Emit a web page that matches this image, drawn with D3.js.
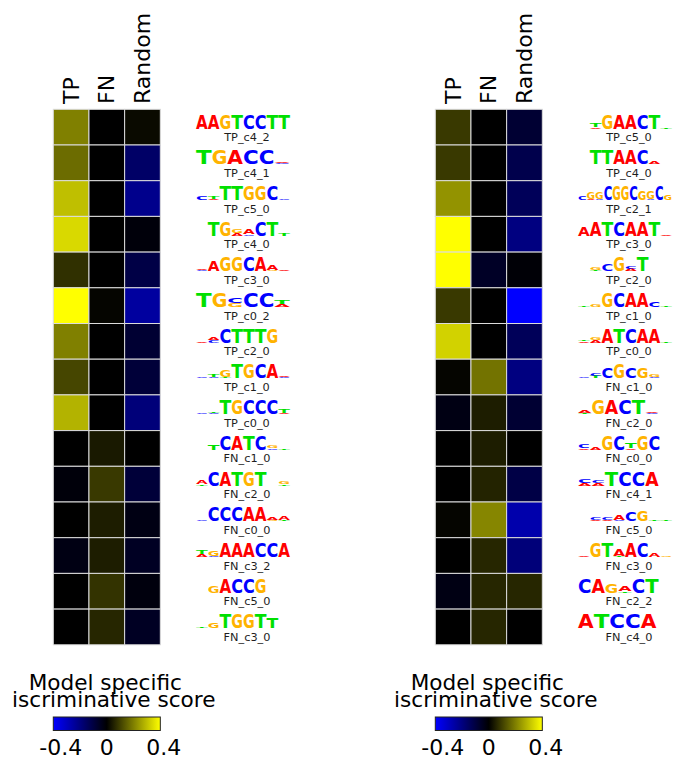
<!DOCTYPE html>
<html>
<head>
  <meta charset="utf-8">
  <title>Model specific discriminative score</title>
  <script src="https://cdn.jsdelivr.net/npm/d3@7"></script>
  <style>
    body { margin: 0; background: #fff; }
    text { font-family: "DejaVu Sans", sans-serif; }
  </style>
</head>
<body>
<svg id="chart" width="676" height="761"></svg>
<script>
// columns of both heatmaps
var colNames = ["TP", "FN", "Random"];

// left panel
var leftNames = ["TP_c4_2", "TP_c4_1", "TP_c5_0", "TP_c4_0", "TP_c3_0", "TP_c0_2", "TP_c2_0", "TP_c1_0",
                 "TP_c0_0", "FN_c1_0", "FN_c2_0", "FN_c0_0", "FN_c3_2", "FN_c5_0", "FN_c3_0"];
var leftTP     = [0.20, 0.17, 0.30, 0.34, 0.075, 0.40, 0.20, 0.11, 0.28, 0.00, -0.015, 0.00, -0.03, 0.00, 0.00];
var leftFN     = [0.00, 0.00, 0.00, 0.00, 0.00, 0.008, 0.00, 0.00, 0.00, 0.04, 0.09, 0.045, 0.045, 0.08, 0.06];
var leftRandom = [0.015, -0.16, -0.22, -0.015, -0.11, -0.25, -0.08, -0.09, -0.19, 0.00, -0.09, -0.03, -0.055, -0.02, -0.055];
// logo positions: letters stacked bottom to top with height in tenths, "-" = empty
var leftLogos = [
  "A10 A10 G10 T10 C10 C10 T10 T10",
  "T10 G10 A10 C10 C10 C1A1",
  "C3 A1T2 T10 T10 G10 G10 C10 C1",
  "- T10 G10 A2G3 C1A4 C10 T10 T2",
  "C1A1 A8 G10 G10 C10 A10 G1A4 A1",
  "T10 G10 G3C4 C10 C10 A2T3",
  "A1 C2A2 C10 T10 T10 T10 G10 -",
  "C1 C1T2 T1G5 T10 G10 C10 A10 C1A1",
  "C1 C1T1 T10 G10 C10 C10 C10 A1T3",
  "- T4 C10 A10 T10 C10 C1G2 T1",
  "T1A3 C10 A10 T10 G10 T10 - T1G2",
  "C1 C10 C10 C10 A10 A10 G1A2 T1A3",
  "A2T3 C1G4 A10 A10 A10 C10 C10 A10",
  "- G5 A10 C10 C10 G10 - -",
  "T1 G4 T10 G10 G10 T10 T8 -"
];

// right panel
var rightNames = ["TP_c5_0", "TP_c4_0", "TP_c2_1", "TP_c3_0", "TP_c2_0", "TP_c1_0", "TP_c0_0", "FN_c1_0",
                  "FN_c2_0", "FN_c0_0", "FN_c4_1", "FN_c5_0", "FN_c3_0", "FN_c2_2", "FN_c4_0"];
var rightTP     = [0.09, 0.09, 0.23, 0.40, 0.40, 0.09, 0.33, 0.008, -0.03, 0.00, 0.00, 0.008, 0.00, -0.03, 0.00];
var rightFN     = [0.00, 0.00, 0.00, 0.00, -0.06, 0.00, 0.00, 0.18, 0.045, 0.045, 0.055, 0.21, 0.06, 0.06, 0.06];
var rightRandom = [-0.08, -0.12, -0.14, -0.20, -0.01, -0.40, -0.14, -0.20, -0.08, 0.00, -0.11, -0.27, -0.19, 0.06, 0.00];
var rightLogos = [
  "- A1T3 G10 A10 A10 C10 T10 T1",
  "- T10 T10 A10 A10 C10 A2 -",
  "C3 A1G5 C1G5 C10 G10 G10 C10 G7 C1G6 C10 G4",
  "A7 A10 T10 C10 A10 A10 T10 A1",
  "- T1G2 C5 G10 A2C2 T10 - -",
  "T1 G2 G10 C10 A10 A10 C4 T1",
  "A1T1 A2G2 A10 T10 C10 A10 A10 T1",
  "C1 T2C2 C8 G10 C8 G8 C1G2 -",
  "T1A2 G10 A10 C10 T10 C1A1 -",
  "A1C3 A2 G10 C10 A1T4 G10 C10 -",
  "A2C3 A2C2 T10 C10 C10 A10 -",
  "- A1C2 A1C2 C1A4 C7 G8 T1 T1",
  "A1 G10 T10 T1A5 A10 C10 A3 G1",
  "C10 A10 G7 T1A4 C10 T10 -",
  "A10 T10 C10 C10 A10 -"
];

// colour legend
var legendTicks = [-0.4, 0, 0.4];
var legendTitle = ["Model specific", "iscriminative score"];

var letterColor = {A: "#ff0000", C: "#0000ff", G: "#ffb300", T: "#00e000"};

var svg = d3.select("#chart");

var color = d3.scaleLinear()
    .domain([-0.4, 0, 0.4])
    .range(["#0000ff", "#000000", "#ffff00"])
    .clamp(true);

var cellW = 35.67, gridTop = 109.3, rowH = 35.7;

function drawPanel(x0, logoX0, names, tp, fn, rnd, logos) {
  var g = svg.append("g");
  var x = d3.scaleBand().domain(colNames).range([x0, x0 + cellW * 3]);
  var y = d3.scaleBand().domain(names).range([gridTop, gridTop + rowH * names.length]);
  var cols = [tp, fn, rnd];

  // headers
  g.selectAll("text.col").data(colNames).enter().append("text")
      .attr("class", "col")
      .attr("transform", function(d) { return "translate(" + (x(d) + x.bandwidth() / 2 + 7.5) + ",104) rotate(-90)"; })
      .attr("font-size", 22)
      .attr("fill", "#000")
      .text(function(d) { return d; });

  // cells
  colNames.forEach(function(c, ci) {
    g.selectAll(null).data(cols[ci]).enter().append("rect")
        .attr("x", x(c))
        .attr("y", function(d, i) { return y(names[i]); })
        .attr("width", x.bandwidth())
        .attr("height", y.bandwidth())
        .attr("fill", function(d) { return color(d); })
        .attr("stroke", "#dcdcdc")
        .attr("stroke-width", 1);
  });

  // logos
  var logoW = 94, unit = 1.35, fs = 20, cap = 0.729 * fs;
  logos.forEach(function(str, i) {
    var rowTop = y(names[i]);
    var base = rowTop + 19.2;
    var pos = str.split(" ");
    var pw = logoW / pos.length;
    pos.forEach(function(p, j) {
      if (p === "-") return;
      var re = /([ACGT])(\d+)/g, m, b = 0;
      while ((m = re.exec(p)) !== null) {
        var h = +m[2] * unit;
        g.append("text")
            .attr("transform", "translate(" + (logoX0 + j * pw) + "," + (base - b) + ") scale(1," + (h / cap) + ")")
            .attr("font-size", fs)
            .attr("font-weight", "bold")
            .attr("textLength", pw)
            .attr("lengthAdjust", "spacingAndGlyphs")
            .attr("fill", letterColor[m[1]])
            .text(m[1]);
        b += h;
      }
    });
    g.append("text")
        .attr("x", logoX0 + 51)
        .attr("y", rowTop + 31.8)
        .attr("text-anchor", "middle")
        .attr("font-size", 11.3)
        .attr("fill", "#1e1e1e")
        .text(names[i]);
  });

  // legend
  var barL = x0, barR = x0 + cellW * 3;
  var lx = d3.scaleLinear().domain([-0.4, 0.4]).range([barL, barR]);
  g.selectAll("text.title").data(legendTitle).enter().append("text")
      .attr("class", "title")
      .attr("x", function(d, i) { return (barL + barR) / 2 + (i === 0 ? -1.5 : 7); })
      .attr("y", function(d, i) { return 689.5 + i * 17; })
      .attr("text-anchor", "middle")
      .attr("font-size", 21.6)
      .attr("fill", "#000")
      .text(function(d) { return d; });

  var gid = "grad" + Math.round(x0);
  var grad = svg.append("defs").append("linearGradient").attr("id", gid);
  grad.selectAll("stop").data(d3.range(0, 1.0001, 0.1)).enter().append("stop")
      .attr("offset", function(d) { return d; })
      .attr("stop-color", function(d) { return color(lx.invert(barL + d * (barR - barL))); });
  g.append("rect")
      .attr("x", barL).attr("y", 717)
      .attr("width", barR - barL).attr("height", 13.5)
      .attr("fill", "url(#" + gid + ")")
      .attr("stroke", "#222")
      .attr("stroke-width", 1);

  var dx = [7.5, 0, 3.5];
  g.selectAll("text.tick").data(legendTicks).enter().append("text")
      .attr("class", "tick")
      .attr("x", function(d, i) { return lx(d) + dx[i]; })
      .attr("y", 755)
      .attr("text-anchor", "middle")
      .attr("font-size", 22)
      .attr("fill", "#000")
      .text(function(d) { return d === 0 ? "0" : String(d); });
}

drawPanel(53.3, 196, leftNames, leftTP, leftFN, leftRandom, leftLogos);
drawPanel(435.3, 578, rightNames, rightTP, rightFN, rightRandom, rightLogos);
</script>
</body>
</html>
